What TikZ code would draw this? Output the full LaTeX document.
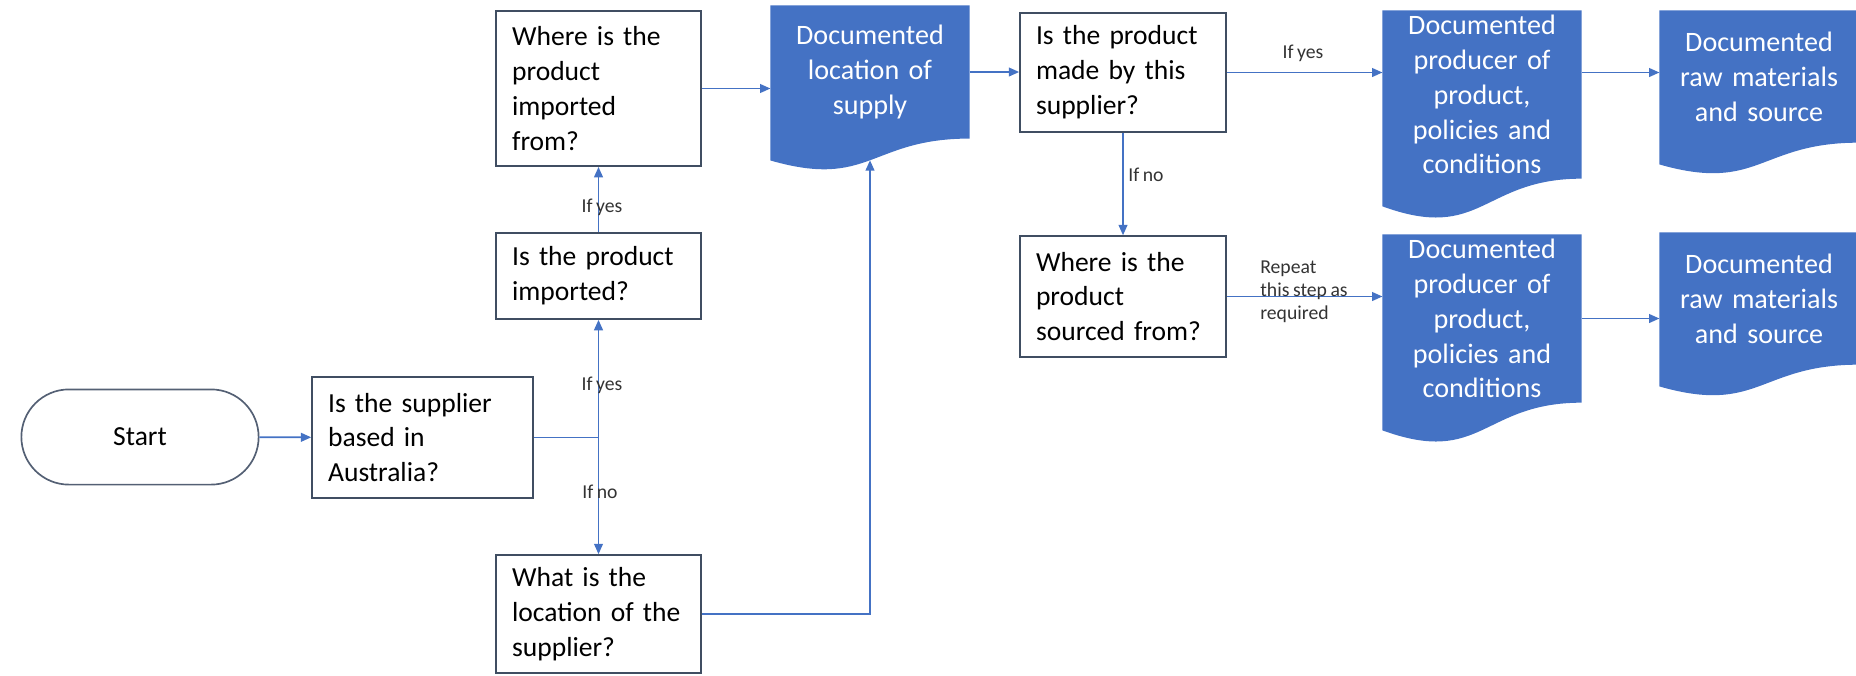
\documentclass[tikz,border=0pt]{standalone}
\usepackage{fontspec}
\setmainfont{Carlito}[WordSpace=0.8]
\usetikzlibrary{arrows.meta,calc,backgrounds,shapes.misc}
\definecolor{docblue}{RGB}{68,114,196}
\definecolor{boxline}{RGB}{64,78,98}
\definecolor{flowline}{RGB}{68,114,196}
\definecolor{startline}{RGB}{84,96,116}

\tikzset{
  qbox/.style={draw=boxline, line width=0.6pt, fill=white, align=left, inner xsep=2mm,
    text width=#1, font=\fontsize{9.8}{12.4}\selectfont},
  startbox/.style={draw=startline, line width=0.6pt, rounded rectangle, minimum width=32mm,
    minimum height=11.9mm, font=\fontsize{9.8}{12.4}\selectfont},
  docnode/.style={align=center, text=white, inner xsep=0.875mm, inner ysep=0pt,
    text width=23mm, font=\fontsize{10}{12.4}\selectfont},
  lbl/.style={inner sep=0pt, text=black!80, font=\fontsize{7}{8.2}\selectfont},
  link/.style={draw=flowline, line width=0.6pt},
  flow/.style={link, -{Triangle[length=1.3mm,width=1.1mm]}}
}

% blue document shape behind a docnode
\newcommand{\docshape}[1]{%
  \begin{scope}[on background layer]
  \fill[docblue] let \p1=($(#1.north)-(#1.south)$) in
    (#1.north west) -- (#1.north east) -- (#1.south east)
    .. controls (#1.south) and ($(#1.south)+(0pt,-0.380*\y1)$)
    .. ($(#1.south west)+(0pt,-0.1646*\y1)$) -- cycle;
  \path let \p1=($(#1.north)-(#1.south)$) in
    ($(#1.south)+(0pt,-0.163*\y1)$) coordinate (#1-wave);
  \end{scope}}

\begin{document}
\begin{tikzpicture}[x=0.125mm, y=-0.125mm]
\useasboundingbox (0,0) rectangle (1856,675);

% questions
\node[startbox] (start) at (140,437) {Start};
\node[qbox=23.6mm, minimum height=15.1mm] (based) at (422.5,437.5) {Is the supplier\\ based in\\ Australia?};
\node[qbox=21.6mm, minimum height=10.75mm] (imported) at (598.5,276) {Is the product\\ imported?};
\node[qbox=21.6mm, minimum height=19.4mm] (importfrom) at (598.5,88.5) {Where is the\\ product\\ imported\\ from?};
\node[qbox=21.6mm, minimum height=14.75mm] (location) at (598.5,614) {What is the\\ location of the\\ supplier?};
\node[qbox=21.75mm, minimum height=14.9mm] (madeby) at (1123,72.5) {Is the product\\ made by this\\ supplier?};
\node[qbox=21.75mm, minimum height=15.1mm] (sourced) at (1123,296.5) {Where is the\\ product\\ sourced from?};

% documents
\node[docnode, minimum height=16.5mm] (supply) at (870,72) {Documented\\ location of\\ supply};
\node[docnode, minimum height=20.9mm] (producer) at (1482,94.5) {Documented\\ producer of\\ product,\\ policies and\\ conditions};
\node[docnode, minimum height=20.9mm] (producer2) at (1482,318.5) {Documented\\ producer of\\ product,\\ policies and\\ conditions};
\node[docnode, minimum height=16.4mm] (raw) at (1759,76.5) {Documented\\ raw materials\\ and source};
\node[docnode, minimum height=16.4mm] (raw2) at (1759,298.5) {Documented\\ raw materials\\ and source};
\docshape{supply}
\docshape{producer}
\docshape{producer2}
\docshape{raw}
\docshape{raw2}

% connectors
\draw[flow] (start) -- (based);
\coordinate (fork) at (based.east -| imported.south);
\draw[link] (based.east) -- (fork);
\draw[flow] (fork) -- (imported.south);
\draw[flow] (fork) -- (location.north);
\draw[flow] (imported) -- (importfrom);
\draw[flow] (importfrom.east) -- (importfrom.east -| supply.west);
\draw[flow] (location.east) -- (location.east -| supply-wave) -- (supply-wave);
\draw[flow] (supply.east) -- (supply.east -| madeby.west);
\draw[flow] (madeby.east) -- (madeby.east -| producer.west);
\draw[flow] (madeby) -- (sourced);
\draw[flow] (sourced.east) -- (sourced.east -| producer2.west);
\draw[flow] (producer.east |- madeby.east) -- (raw.west |- madeby.east);
\draw[flow] (producer2.east) -- (producer2.east -| raw2.west);

% labels
\node[lbl] (yes1) at (602,385) {If yes};
\node[lbl] (no1) at (600,492) {If no};
\node[lbl] (yes2) at (602,207) {If yes};
\node[lbl] (yes3) at (1303,53) {If yes};
\node[lbl] (no2) at (1146,175) {If no};
\node[lbl, align=left] (repeat) at (1304,292) {Repeat\\ this step as\\ required};
\end{tikzpicture}
\end{document}
